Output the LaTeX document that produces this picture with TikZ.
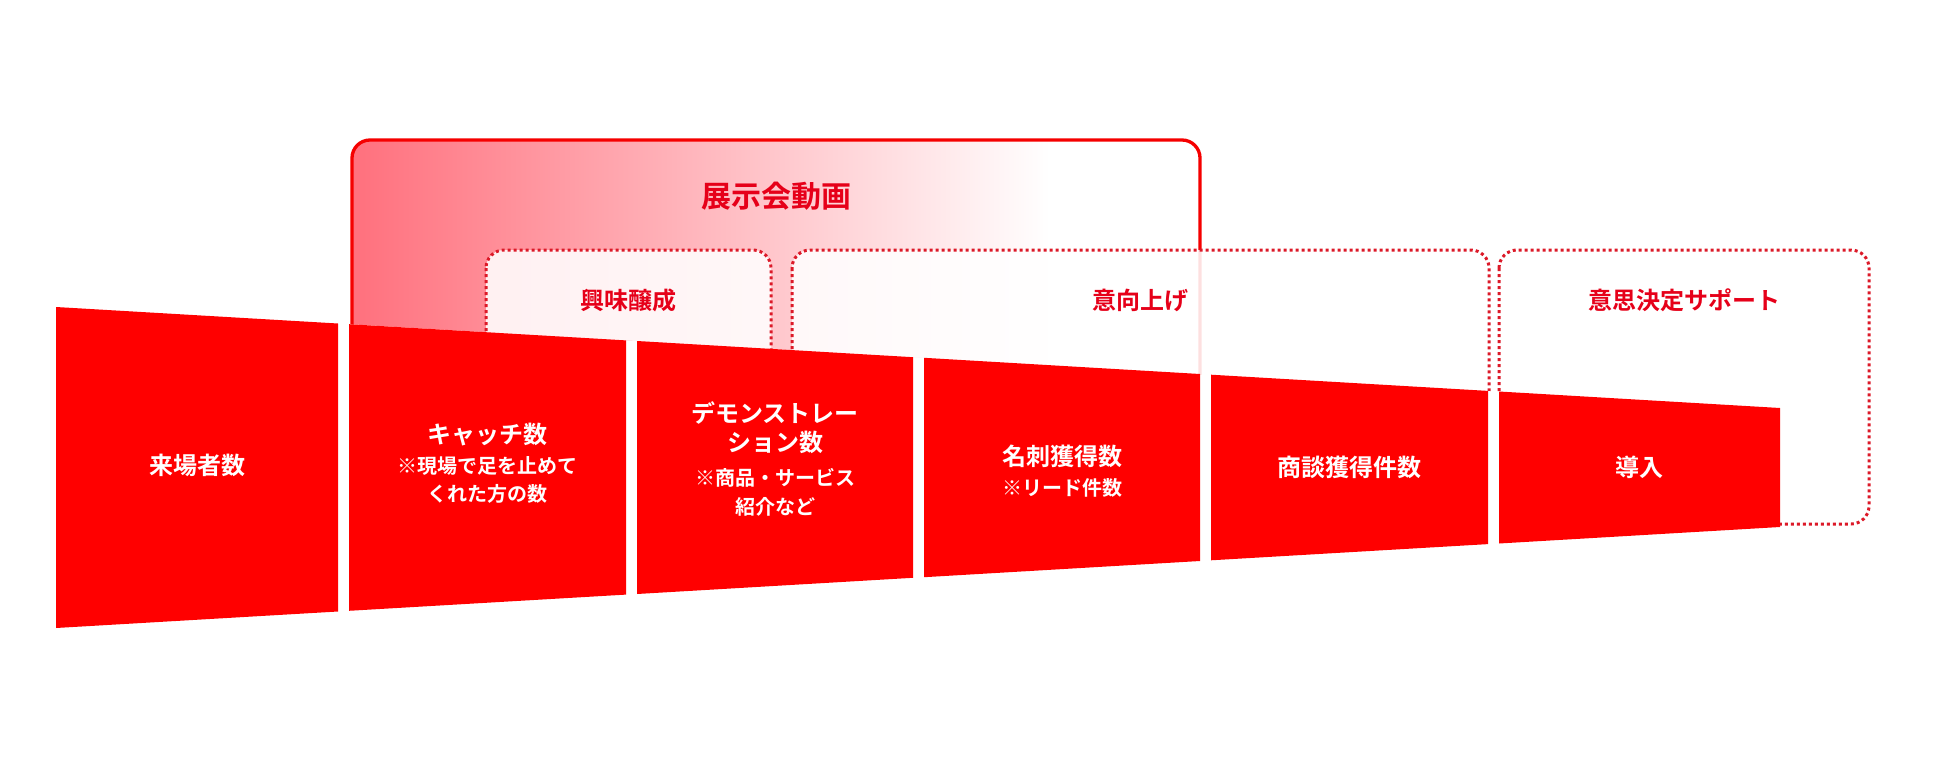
\documentclass[tikz,border=0pt]{standalone}
\usepackage{fontspec}
\setmainfont{Noto Sans CJK JP}[BoldFont={Noto Sans CJK JP Bold}]
\definecolor{fun}{RGB}{255,0,0}
\definecolor{pk}{RGB}{255,112,125}
\definecolor{hdr}{RGB}{230,0,25}
\definecolor{dotc}{RGB}{220,25,40}
\definecolor{brd}{RGB}{245,0,0}
\tikzset{
  seg/.style={fill=fun, draw=none},
  lbl/.style={text=white, font=\bfseries\fontsize{24}{24}\selectfont, inner sep=0pt},
  sub/.style={text=white, font=\bfseries\fontsize{20}{20}\selectfont, inner sep=0pt},
  hd/.style={text=hdr, font=\bfseries\fontsize{24}{24}\selectfont, inner sep=0pt},
  hdbig/.style={text=hdr, font=\bfseries\fontsize{30}{30}\selectfont, inner sep=0pt},
  dotbox/.style={draw=dotc, line width=3pt, dash pattern=on 3pt off 3pt, rounded corners=18pt, fill=white, fill opacity=0.88},
  solidbox/.style={draw=brd, line width=3.3pt, rounded corners=18pt},
}
\begin{document}
\begin{tikzpicture}[x=1pt,y=-1pt]
\useasboundingbox (0,0) rectangle (1950,781);
\begin{scope}
  \clip (0,0) -- (1950,0) -- (1950,781) -- (1780,781) -- (1780,408) -- (0,303.7) -- cycle;
  % exhibition video box
  \begin{scope}
    \clip[rounded corners=18pt] (352,140) rectangle (1200,520);
    \shade[left color=pk, right color=white] (352,130) rectangle (1050,530);
  \end{scope}
  \draw[solidbox] (352,540) -- (352,140) -- (1200,140) -- (1200,540);
  % stage boxes
  \path[dotbox] (486,250) rectangle (771,520);
  \path[dotbox] (792,250) rectangle (1489,520);
  \path[dotbox] (1499,250) rectangle (1869,524);
\end{scope}
% funnel segments
\fill[seg] (56,307) -- (338,323.5) -- (338,611.5) -- (56,628) -- cycle;
\fill[seg] (349,324.2) -- (626,340.4) -- (626,594.6) -- (349,610.8) -- cycle;
\fill[seg] (637,341.0) -- (913,357.2) -- (913,577.8) -- (637,594.0) -- cycle;
\fill[seg] (924,357.8) -- (1200,374.0) -- (1200,561.0) -- (924,577.2) -- cycle;
\fill[seg] (1211,374.7) -- (1488,390.9) -- (1488,544.1) -- (1211,560.3) -- cycle;
\fill[seg] (1499,391.5) -- (1780,408.0) -- (1780,527.0) -- (1499,543.5) -- cycle;
% headers
\node[hdbig] (h0) at (776,196) {展示会動画};
\node[hd] (h1) at (628.5,300) {興味醸成};
\node[hd] (h2) at (1140.5,300) {意向上げ};
\node[hd] (h3) at (1684.5,300) {意思決定サポート};
% funnel labels
\node[lbl] (l1) at (197,465) {来場者数};
\node[lbl] (l2a) at (487.5,435) {キャッチ数};
\node[sub] (l2b) at (487.5,466) {※現場で足を止めて};
\node[sub] (l2c) at (487.5,494) {くれた方の数};
\node[lbl] (l3a) at (775,413) {デモンストレー};
\node[lbl] (l3b) at (775,442) {ション数};
\node[sub] (l3c) at (775,478) {※商品・サービス};
\node[sub] (l3d) at (775,507) {紹介など};
\node[lbl] (l4a) at (1062,456) {名刺獲得数};
\node[sub] (l4b) at (1062,488) {※リード件数};
\node[lbl] (l5) at (1349.5,467) {商談獲得件数};
\node[lbl] (l6) at (1639.5,467) {導入};
\end{tikzpicture}
\end{document}
